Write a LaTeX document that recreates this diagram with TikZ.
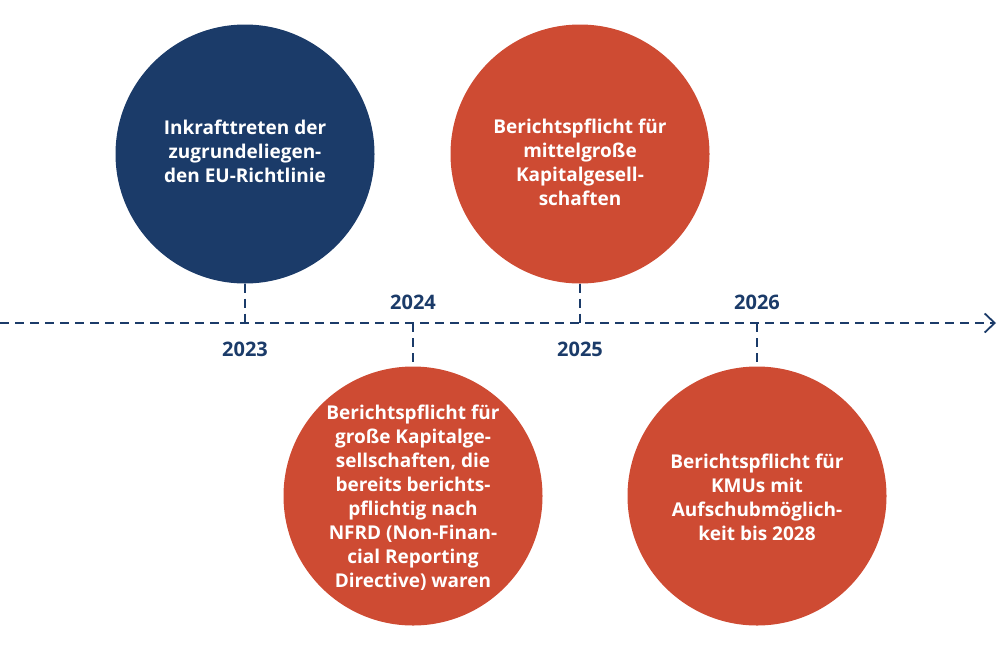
\documentclass[tikz,border=0pt]{standalone}
\usepackage{fontspec}
\setmainfont{Open Sans}
\usetikzlibrary{arrows.meta}

\definecolor{darkblue}{HTML}{1B3B69}
\definecolor{rust}{HTML}{CE4B33}

\begin{document}
\begin{tikzpicture}[x=1pt, y=-1pt,
        event/.style={circle, minimum size=259pt, inner sep=0pt},
        eventtext/.style={align=center, text=white, font=\fontsize{19}{24}\selectfont\bfseries},
        year/.style={text=darkblue, font=\fontsize{20}{24}\selectfont\bfseries},
        timeline/.style={darkblue, line width=1.8pt, dash pattern=on 9pt off 6pt}]
        \useasboundingbox (0,0) rectangle (1000,651);

        \coordinate (start) at (0,323);
        \coordinate (end) at (996,323);
        \draw[timeline, -{Straight Barb[length=10pt, width=19pt, line width=1.8pt]}] (start) -- (end);

        % circles
        \node[event, fill=darkblue] (eu) at (245,154) {};
        \node[event, fill=rust] (mittel) at (580,154) {};
        \node[event, fill=rust] (gross) at (413,496) {};
        \node[event, fill=rust] (kmu) at (757,496) {};

        % texts
        \node[eventtext] (eutext) at (245,151) {Inkrafttreten der\\zugrundeliegen-\\den EU-Richtlinie};
        \node[eventtext] (mitteltext) at (580,162) {Berichtspflicht für\\mittelgroße\\Kapitalgesell-\\schaften};
        \node[eventtext] (grosstext) at (413,498) {Berichtspflicht für\\große Kapitalge-\\sellschaften, die\\bereits berichts-\\pflichtig nach\\NFRD (Non-Finan-\\cial Reporting\\Directive) waren};
        \node[eventtext] (kmutext) at (757,497) {Berichtspflicht für\\KMUs mit\\Aufschubmöglich-\\keit bis 2028};

        \coordinate (t23) at (245,323);
        \coordinate (t24) at (413,323);
        \coordinate (t25) at (580,323);
        \coordinate (t26) at (757,323);

        \draw[timeline] (eu.south) -- (t23);
        \draw[timeline] (mittel.south) -- (t25);
        \draw[timeline] (t24) -- (gross.north);
        \draw[timeline] (t26) -- (kmu.north);

        \node[year] (y23) at (245,349) {2023};
        \node[year] (y24) at (413,302) {2024};
        \node[year] (y25) at (580,349) {2025};
        \node[year] (y26) at (757,302) {2026};
    \end{tikzpicture}
\end{document}
